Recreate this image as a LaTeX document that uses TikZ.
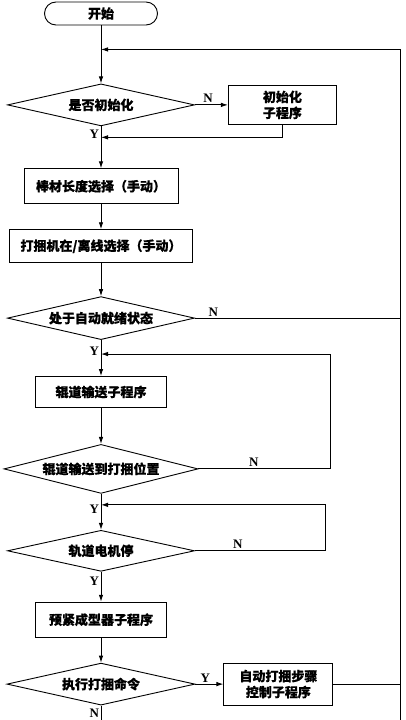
\documentclass[tikz,border=0pt]{standalone}
\usepackage{fontspec}
\setmainfont{Liberation Serif}
\newfontfamily\cjk{Noto Sans CJK SC}[FakeBold=0.6]
\usetikzlibrary{shapes.geometric, arrows.meta, positioning}

\begin{document}
\begin{tikzpicture}[
    base/.style={draw, line width=0.9pt, align=center, font=\cjk\bfseries\fontsize{13pt}{16pt}\selectfont, inner sep=2pt},
    block/.style={base, rectangle, minimum height=33pt},
    decision/.style={base, diamond, aspect=4.5, minimum width=187pt, minimum height=42pt, inner sep=0pt},
    terminal/.style={base, rounded corners=11.5pt, minimum width=113pt, minimum height=23pt},
    arrow/.style={-{Latex[length=7pt,width=4.5pt]}, line width=0.9pt},
    link/.style={line width=0.9pt},
    lbl/.style={font=\bfseries\fontsize{13pt}{15pt}\selectfont, inner sep=1.5pt}
]
    \useasboundingbox (0,0) rectangle (405pt,-720pt);

    \node [terminal] (start) at (101pt,-13.5pt) {开始};
    \node [decision] (isinit) [below=58pt of start] {是否初始化};
    \node [block, minimum width=108pt, minimum height=39pt] (initsub) [right=33pt of isinit] {初始化\\子程序};
    \node [block, minimum width=154pt, minimum height=35pt] (length) [below=42pt of isinit] {棒材长度选择（手动）};
    \node [block, minimum width=183pt] (online) [below=25pt of length] {打捆机在/离线选择（手动）};
    \node [decision, minimum height=43pt] (ready) [below=33pt of online] {处于自动就绪状态};
    \node [block, minimum width=131pt, minimum height=31pt] (roller) [below=36pt of ready] {辊道输送子程序};
    \node [decision, minimum width=194pt, minimum height=49pt] (arrive) [below=36pt of roller] {辊道输送到打捆位置};
    \node [decision, minimum height=41pt] (stop) [below=36pt of arrive] {轨道电机停};
    \node [block, minimum width=131pt, minimum height=35pt] (preform) [below=30pt of stop] {预紧成型器子程序};
    \node [decision, minimum width=188pt] (exec) [below=25pt of preform] {执行打捆命令};
    \node [block, minimum width=109pt, minimum height=42pt] (autosub) [right=28pt of exec] {自动打捆步骤\\控制子程序};

    % junctions on the main line
    \coordinate [below=24pt of start] (j1);
    \coordinate [below=11pt of isinit] (j2);
    \coordinate [below=14pt of ready] (j3);
    \coordinate [below=11pt of arrive] (j4);
    \coordinate [right=299pt of j1] (rr);

    \draw [arrow] (start) -- (isinit);
    \draw [arrow] (isinit.east) -- node[lbl, above, pos=0.4] {N} (initsub.west);
    \draw [arrow] (initsub.south) |- (j2);
    \draw [arrow] (isinit.south) -- node[lbl, left, pos=0.19] {Y} (length);
    \draw [arrow] (length) -- (online);
    \draw [arrow] (online) -- (ready);

    \draw [link] (ready.east) -- node[lbl, above, pos=0.09] {N} (ready.east -| rr);
    \draw [arrow] (ready.south) -- node[lbl, left, pos=0.3] {Y} (roller);
    \draw [arrow] (roller) -- (arrive);
    \draw [arrow] (arrive.east) -- node[lbl, above, pos=0.42] {N} ++(132pt,0) |- (j3);

    \draw [arrow] (arrive.south) -- node[lbl, left, pos=0.42] {Y} (stop);
    \draw [arrow] (stop.east) -- node[lbl, above, pos=0.33] {N} ++(130pt,0) |- (j4);
    \draw [arrow] (stop.south) -- node[lbl, left, pos=0.3] {Y} (preform);
    \draw [arrow] (preform) -- (exec);

    \draw [arrow] (exec.east) -- node[lbl, above, pos=0.35] {Y} (autosub.west);
    \draw [link] (autosub.east) -- (autosub.east -| rr);
    \draw [arrow] (exec.south) -- node[lbl, left, pos=0.4] {N} ++(0,-20pt) -| (rr) -- (j1);

\end{tikzpicture}
\end{document}
